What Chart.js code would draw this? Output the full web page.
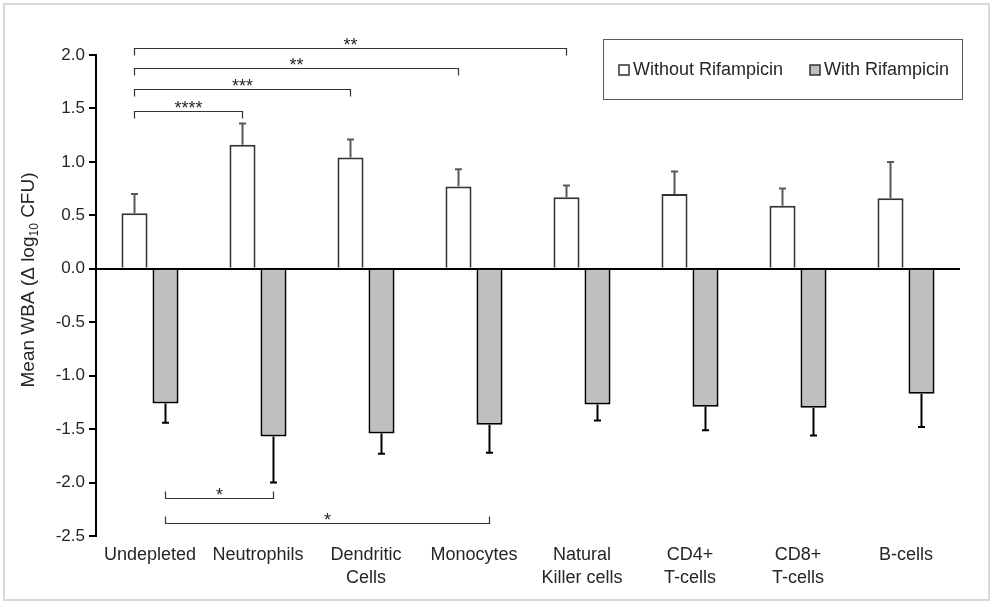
<!DOCTYPE html>
<html>
<head>
<meta charset="utf-8">
<script src="https://cdn.jsdelivr.net/npm/chart.js@4.4.0/dist/chart.umd.min.js"></script>
<style>
  html, body { margin: 0; padding: 0; background: #fff; }
  #marco { width: 993px; height: 603px; position: relative; }
</style>
</head>
<body>
<div id="marco"><canvas id="grafico" width="993" height="603"></canvas></div>
<script>
// Datos
const categorias = [
    ['Undepleted'], ['Neutrophils'], ['Dendritic', 'Cells'], ['Monocytes'],
    ['Natural', 'Killer cells'], ['CD4+', 'T-cells'], ['CD8+', 'T-cells'], ['B-cells']
];
const sinRifampicina = [0.52, 1.16, 1.04, 0.77, 0.67, 0.70, 0.59, 0.66];
const errorSin = [0.18, 0.20, 0.17, 0.16, 0.11, 0.21, 0.16, 0.34];
const conRifampicina = [-1.26, -1.57, -1.54, -1.46, -1.27, -1.29, -1.30, -1.17];
const errorCon = [0.18, 0.43, 0.19, 0.26, 0.15, 0.22, 0.26, 0.31];
const etiquetasSeries = ['Without Rifampicin', 'With Rifampicin'];

// Comparaciones significativas: serie, categoría inicial, final, nivel (eje y), texto
const comparaciones = [
    { serie: 0, desde: 0, hasta: 4, nivel: 2.07, texto: '**' },
    { serie: 0, desde: 0, hasta: 3, nivel: 1.88, texto: '**' },
    { serie: 0, desde: 0, hasta: 2, nivel: 1.68, texto: '***' },
    { serie: 0, desde: 0, hasta: 1, nivel: 1.48, texto: '****' },
    { serie: 1, desde: 0, hasta: 1, nivel: -2.14, texto: '*' },
    { serie: 1, desde: 0, hasta: 3, nivel: -2.38, texto: '*' }
];
const errores = [errorSin, errorCon];

const FUENTE = '"Liberation Sans", Arial, sans-serif';
const colorTexto = '#262626';

// Dibuja barras de error, corchetes, leyenda, título del eje y marco
const pluginExtras = {
    id: 'extras',
    beforeDraw(chart) {
        const c = chart.ctx;
        c.save();
        c.strokeStyle = '#d9d9d9';
        c.lineWidth = 2;
        c.strokeRect(4, 4, chart.width - 8, chart.height - 7);
        c.restore();
    },
    afterDraw(chart) {
        const c = chart.ctx;
        const ejeY = chart.scales.y;
        c.save();

        // Barras de error
        chart.data.datasets.forEach((ds, i) => {
            const meta = chart.getDatasetMeta(i);
            c.strokeStyle = i === 0 ? '#595959' : '#000';
            c.lineWidth = 2;
            meta.data.forEach((barra, j) => {
                const v = ds.data[j];
                const signo = v >= 0 ? 1 : -1;
                const y0 = ejeY.getPixelForValue(v);
                const y1 = ejeY.getPixelForValue(v + signo * errores[i][j]);
                c.beginPath();
                c.moveTo(barra.x, y0);
                c.lineTo(barra.x, y1);
                c.moveTo(barra.x - 3.5, y1);
                c.lineTo(barra.x + 3.5, y1);
                c.stroke();
            });
        });

        // Corchetes de significancia
        c.lineWidth = 1.2;
        c.strokeStyle = '#333';
        c.fillStyle = colorTexto;
        c.font = '18px ' + FUENTE;
        c.textAlign = 'center';
        c.textBaseline = 'alphabetic';
        comparaciones.forEach(comp => {
            const meta = chart.getDatasetMeta(comp.serie);
            const x1 = meta.data[comp.desde].x;
            const x2 = meta.data[comp.hasta].x;
            const y = Math.round(ejeY.getPixelForValue(comp.nivel)) + 0.5;
            const pata = comp.nivel > 0 ? 7 : -7;
            c.beginPath();
            c.moveTo(x1, y + pata);
            c.lineTo(x1, y);
            c.lineTo(x2, y);
            c.lineTo(x2, y + pata);
            c.stroke();
            c.fillText(comp.texto, (x1 + x2) / 2, y + 2);
        });

        // Leyenda
        const lx = 603, ly = 39, lw = 359, lh = 60;
        c.strokeStyle = '#595959';
        c.lineWidth = 1;
        c.strokeRect(lx + 0.5, ly + 0.5, lw, lh);
        c.font = '18px ' + FUENTE;
        c.textAlign = 'left';
        c.textBaseline = 'middle';
        const cy = ly + lh / 2 + 1;
        const marcas = [{ x: 619, relleno: '#fff' }, { x: 810, relleno: '#bfbfbf' }];
        marcas.forEach((m, i) => {
            c.fillStyle = m.relleno;
            c.fillRect(m.x, cy - 5, 10, 10);
            c.strokeStyle = '#333';
            c.lineWidth = 1.5;
            c.strokeRect(m.x, cy - 5, 10, 10);
            c.fillStyle = colorTexto;
            c.fillText(etiquetasSeries[i], m.x + 14, cy);
        });

        // Título del eje Y con subíndice
        const partes = [
            { t: 'Mean WBA (\u0394 log', f: '19px ' + FUENTE, dy: 0 },
            { t: '10', f: '12px ' + FUENTE, dy: 4 },
            { t: ' CFU)', f: '19px ' + FUENTE, dy: 0 }
        ];
        let total = 0;
        partes.forEach(p => { c.font = p.f; p.w = c.measureText(p.t).width; total += p.w; });
        c.translate(34, 280);
        c.rotate(-Math.PI / 2);
        c.textBaseline = 'alphabetic';
        c.fillStyle = colorTexto;
        let px = -total / 2;
        partes.forEach(p => {
            c.font = p.f;
            c.fillText(p.t, px, p.dy);
            px += p.w;
        });
        c.restore();
    }
};

const ctx = document.getElementById('grafico').getContext('2d');
new Chart(ctx, {
    type: 'bar',
    data: {
        labels: categorias,
        datasets: [{
            label: etiquetasSeries[0],
            data: sinRifampicina,
            backgroundColor: '#ffffff',
            borderColor: '#333333',
            borderWidth: 2,
            barPercentage: 0.84,
            categoryPercentage: 0.574
        }, {
            label: etiquetasSeries[1],
            data: conRifampicina,
            backgroundColor: '#bfbfbf',
            borderColor: '#000000',
            borderWidth: 2,
            barPercentage: 0.84,
            categoryPercentage: 0.574
        }]
    },
    options: {
        responsive: false,
        animation: false,
        layout: { padding: { top: 55, right: 33, left: 0, bottom: 0 } },
        plugins: {
            legend: { display: false },
            tooltip: { enabled: false }
        },
        scales: {
            x: {
                grid: { display: false, drawTicks: false },
                border: { display: false },
                ticks: {
                    color: colorTexto,
                    font: { family: FUENTE, size: 18, lineHeight: 1.3 },
                    padding: 7,
                    maxRotation: 0,
                    autoSkip: false
                },
                afterFit: (escala) => { escala.height = 67; }
            },
            y: {
                min: -2.5,
                max: 2.0,
                grid: {
                    color: (c) => c.tick && c.tick.value === 0 ? '#000' : 'transparent',
                    lineWidth: 2,
                    tickColor: '#000',
                    tickLength: 7,
                    tickWidth: 2
                },
                border: { display: true, color: '#000', width: 2 },
                ticks: {
                    stepSize: 0.5,
                    color: colorTexto,
                    font: { family: FUENTE, size: 17 },
                    padding: 4,
                    callback: (v) => Number(v).toFixed(1)
                },
                afterFit: (escala) => { escala.width = 96; }
            }
        }
    },
    plugins: [pluginExtras]
});
</script>
</body>
</html>
